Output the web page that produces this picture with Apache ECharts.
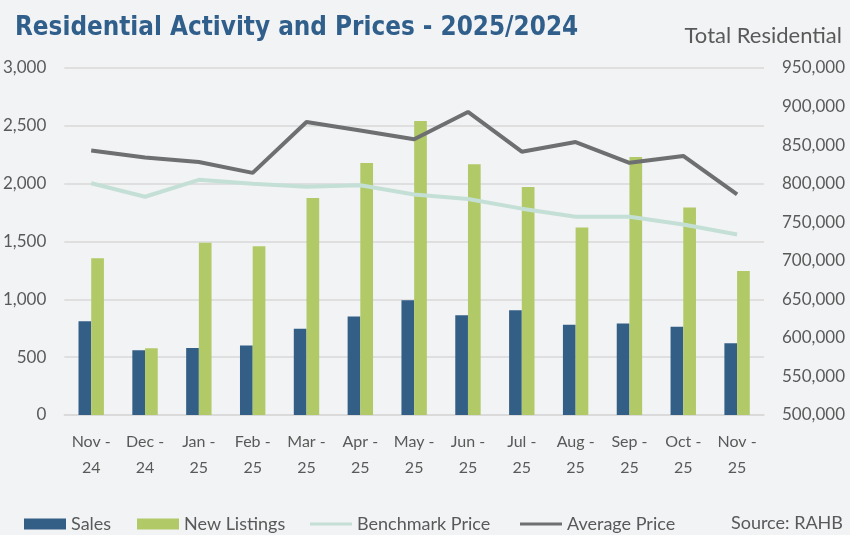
<!DOCTYPE html>
<html><head><meta charset="utf-8">
<script src="https://cdn.jsdelivr.net/npm/echarts@6/dist/echarts.min.js"></script>
<style>html,body{margin:0;padding:0;background:#f2f3f5;}#c{width:850px;height:535px;}</style>
</head><body><div id="c"></div>
<script>
const categories = ['Nov-24','Dec-24','Jan-25','Feb-25','Mar-25','Apr-25','May-25','Jun-25','Jul-25','Aug-25','Sep-25','Oct-25','Nov-25'];
const sales = [810, 560, 580, 600, 745, 852, 993, 863, 906, 780, 791, 762, 621];
const newListings = [1356, 577, 1489, 1458, 1876, 2179, 2542, 2167, 1971, 1622, 2231, 1795, 1244];
const benchmarkPrice = [800500, 783000, 805000, 800000, 796000, 798000, 786000, 780000, 767600, 757000, 757000, 747000, 734000];
const averagePrice = [843000, 834000, 828000, 814000, 880000, 869000, 857500, 893000, 841500, 854000, 827000, 836000, 786000];
const leftTicks = {min: 0, max: 3000, interval: 500};
const rightTicks = {min: 500000, max: 950000, interval: 50000};

const FONT = 'Lato';
const TXT = '#595959';
const chart = echarts.init(document.getElementById('c'), null, {renderer: 'canvas'});
const fmt = v => v.toLocaleString('en-US');
function leg(name, left, icon) {
  return {data: [{name: name, icon: icon}], left: left, top: 515, padding: 0, itemWidth: 42, itemHeight: 11, itemGap: 0,
    textStyle: {fontFamily: FONT, fontSize: 18, color: TXT}, selectedMode: false};
}
const lineIcon = 'path://M0,0H42V3H0Z';
chart.setOption({
  backgroundColor: '#f2f3f5',
  animation: false,
  title: [
    {text: 'Residential Activity and Prices - 2025/2024', left: 10, top: 10,
     textStyle: {fontFamily: 'DejaVu Sans Condensed', fontWeight: 'bold', fontSize: 25.8, color: '#2f5f8a'}},
    {text: 'Total Residential', right: 8, top: 25, padding: 0,
     textStyle: {fontFamily: FONT, fontWeight: 'normal', fontSize: 22, color: TXT}},
    {text: 'Source: RAHB', right: 7, top: 514, padding: 0,
     textStyle: {fontFamily: FONT, fontWeight: 'normal', fontSize: 18, color: TXT}}
  ],
  legend: [
    leg('Sales', 24, 'rect'),
    leg('New Listings', 137, 'rect'),
    leg('Benchmark Price', 310, lineIcon),
    leg('Average Price', 520, lineIcon)
  ],
  grid: {left: 62, right: 86, top: 68, bottom: 120},
  xAxis: {
    type: 'category', data: categories,
    axisLine: {lineStyle: {color: '#d9d9d9', width: 1.5}},
    axisTick: {show: false},
    axisLabel: {fontFamily: FONT, fontSize: 16, color: TXT, margin: 14, lineHeight: 26, interval: 0,
      formatter: v => v.replace('-', ' -\n')}
  },
  yAxis: [
    {type: 'value', min: leftTicks.min, max: leftTicks.max, interval: leftTicks.interval,
     axisLine: {show: false}, axisTick: {show: false},
     splitLine: {lineStyle: {color: '#d9d9d9', width: 1.5}},
     axisLabel: {fontFamily: FONT, fontSize: 17, color: TXT, margin: 18, formatter: fmt}},
    {type: 'value', min: rightTicks.min, max: rightTicks.max, interval: rightTicks.interval,
     axisLine: {show: false}, axisTick: {show: false}, splitLine: {show: false},
     axisLabel: {fontFamily: FONT, fontSize: 17, color: TXT, margin: 18, formatter: fmt}}
  ],
  series: [
    {name: 'Sales', type: 'bar', data: sales, barWidth: 12.7, barGap: '0%',
     itemStyle: {color: '#335f86'}},
    {name: 'New Listings', type: 'bar', data: newListings, barWidth: 12.7,
     itemStyle: {color: '#b2c967'}},
    {name: 'Benchmark Price', type: 'line', yAxisIndex: 1, data: benchmarkPrice, symbol: 'none',
     lineStyle: {color: '#c4e0d6', width: 4}, itemStyle: {color: '#c4e0d6'}, z: 3},
    {name: 'Average Price', type: 'line', yAxisIndex: 1, data: averagePrice, symbol: 'none',
     lineStyle: {color: '#6d6f70', width: 4}, itemStyle: {color: '#6d6f70'}, z: 4}
  ]
});
</script></body></html>
